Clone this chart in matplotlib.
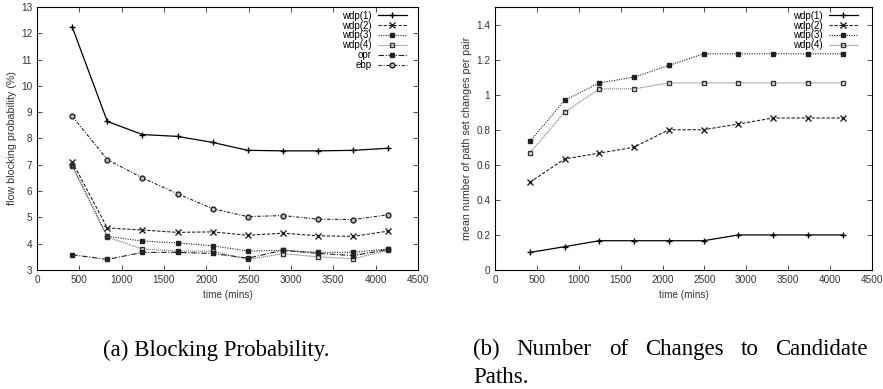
import numpy as np
import matplotlib.pyplot as plt

plt.rcParams['font.family'] = ['Liberation Sans', 'DejaVu Sans']

# time points (mins)
t = [415, 830, 1245, 1660, 2075, 2490, 2905, 3320, 3735, 4150]

# (a) flow blocking probability (%)
bp_wdp1 = [12.25, 8.65, 8.15, 8.08, 7.85, 7.55, 7.53, 7.53, 7.55, 7.63]
bp_wdp2 = [7.12, 4.60, 4.52, 4.43, 4.45, 4.32, 4.40, 4.30, 4.28, 4.48]
bp_wdp3 = [7.00, 4.28, 4.10, 4.03, 3.92, 3.72, 3.75, 3.67, 3.67, 3.80]
bp_wdp4 = [6.95, 4.25, 3.80, 3.72, 3.72, 3.40, 3.62, 3.50, 3.43, 3.75]
bp_opr = [3.58, 3.40, 3.67, 3.67, 3.63, 3.45, 3.75, 3.63, 3.55, 3.78]
bp_ebp = [8.85, 7.20, 6.50, 5.90, 5.33, 5.03, 5.07, 4.93, 4.92, 5.10]

# (b) mean number of path set changes per pair
ch_wdp1 = [0.100, 0.133, 0.167, 0.167, 0.167, 0.167, 0.200, 0.200, 0.200, 0.200]
ch_wdp2 = [0.500, 0.633, 0.667, 0.700, 0.800, 0.800, 0.833, 0.867, 0.867, 0.867]
ch_wdp3 = [0.733, 0.967, 1.067, 1.100, 1.167, 1.233, 1.233, 1.233, 1.233, 1.233]
ch_wdp4 = [0.667, 0.900, 1.033, 1.033, 1.067, 1.067, 1.067, 1.067, 1.067, 1.067]

styles = {
    'wdp(1)': dict(color='black', ls='-', marker='+', ms=4, lw=0.9),
    'wdp(2)': dict(color='#222222', ls=(0, (3, 1.5)), marker='x', ms=3.8, lw=0.8),
    'wdp(3)': dict(color='#222222', ls=(0, (1, 1.2)), marker='s', ms=2.5, lw=0.8),
    'wdp(4)': dict(color='#777777', ls=(0, (1, 0.8)), marker='s', ms=3.5, lw=0.8,
                   mfc='none', mec='#333333'),
    'opr': dict(color='#222222', ls=(0, (5, 1.5, 1, 1.5)), marker='s', ms=3.5, lw=0.8),
    'ebp': dict(color='#222222', ls=(0, (3, 1.5, 1, 1.5)), marker='o', ms=3.5, lw=0.8,
                mfc='#bbbbbb', mec='#222222'),
}

fig = plt.figure(figsize=(8.83, 3.89), dpi=100)
ax1 = fig.add_axes([37 / 883, 1 - 270 / 389, 381 / 883, 263 / 389])
ax2 = fig.add_axes([495 / 883, 1 - 270 / 389, 377 / 883, 263 / 389])

for name, y in [('wdp(1)', bp_wdp1), ('wdp(2)', bp_wdp2), ('wdp(3)', bp_wdp3),
                ('wdp(4)', bp_wdp4), ('opr', bp_opr), ('ebp', bp_ebp)]:
    ax1.plot(t, y, label=name, **styles[name])

for name, y in [('wdp(1)', ch_wdp1), ('wdp(2)', ch_wdp2), ('wdp(3)', ch_wdp3),
                ('wdp(4)', ch_wdp4)]:
    ax2.plot(t, y, label=name, **styles[name])

ax1.set_xlim(0, 4500)
ax1.set_ylim(3, 13)
ax1.set_yticks(np.arange(3, 14, 1))
ax1.set_ylabel('flow blocking probability (%)', fontsize=7.7, labelpad=3,
               color='#333333')

ax2.set_xlim(0, 4500)
ax2.set_ylim(0, 1.5)
ax2.set_yticks(np.arange(0, 1.41, 0.2))
ax2.set_yticklabels(['0', '0.2', '0.4', '0.6', '0.8', '1', '1.2', '1.4'])
ax2.set_ylabel('mean number of path set changes per pair', fontsize=7.7,
               labelpad=3, color='#333333')

for ax, ax_x in ((ax1, 0.981), (ax2, 0.973)):
    ax.set_xticks(np.arange(0, 4501, 500))
    ax.set_xlabel('time (mins)', fontsize=7.2, labelpad=3.5, color='#333333')
    ax.tick_params(direction='in', top=True, right=True, labelsize=7.2,
                   length=3.5, width=0.6, pad=3.5, colors='#333333')
    for s in ax.spines.values():
        s.set_linewidth(0.8)
    ax.legend(loc='upper right', bbox_to_anchor=(ax_x, 1.0), frameon=False,
              fontsize=7, markerfirst=False, handlelength=3.0,
              handletextpad=0.6, labelspacing=-0.02, borderaxespad=0)

cap = dict(fontsize=16.5, family='Liberation Serif', va='baseline')
fig.text(216 / 883, 1 - 356 / 389, '(a) Blocking Probability.', ha='center', **cap)

# justified first line of caption (b)
words = ['(b)', 'Number', 'of', 'Changes', 'to', 'Candidate']
x0, x1 = 473, 868
texts = [fig.text(0, 1 - 355 / 389, w, ha='left', **cap) for w in words]
fig.canvas.draw()
r = fig.canvas.get_renderer()
widths = [tx.get_window_extent(r).width for tx in texts]
gap = (x1 - x0 - sum(widths)) / (len(words) - 1)
x = x0
for tx, w in zip(texts, widths):
    tx.set_x(x / 883)
    x += w + gap
fig.text(x0 / 883, 1 - 383 / 389, 'Paths.', ha='left', **cap)

fig.savefig('out.png', dpi=100)
